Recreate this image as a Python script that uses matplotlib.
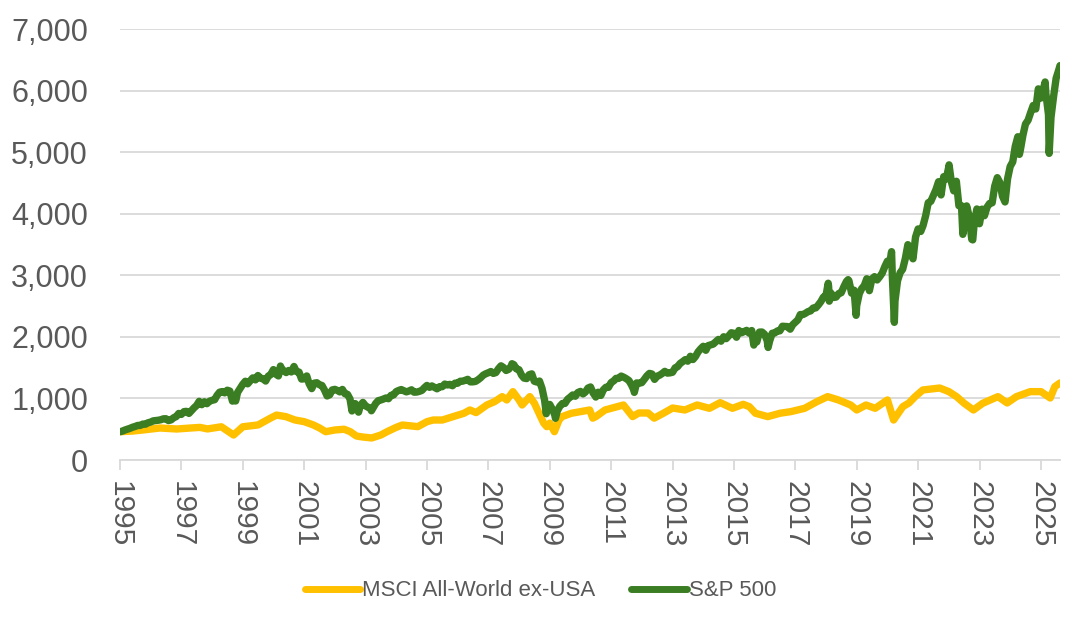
import matplotlib
matplotlib.use("Agg")
import matplotlib.pyplot as plt
import pandas as pd
import numpy as np

# ---------------- data ----------------
# S&P 500 month-end levels, Jan 1995 .. Jul 2025
sp500_monthly = [
    470, 487, 501, 515, 533, 545, 562, 562, 584, 582, 605, 616,
    636, 640, 646, 654, 669, 671, 640, 652, 687, 705, 757, 741,
    786, 791, 757, 801, 848, 885, 954, 899, 947, 915, 955, 970,
    980, 1049, 1102, 1112, 1091, 1134, 1121, 957, 1017, 1099, 1164, 1229,
    1280, 1238, 1286, 1335, 1302, 1373, 1329, 1320, 1283, 1363, 1389, 1469,
    1394, 1366, 1499, 1452, 1421, 1455, 1431, 1518, 1437, 1429, 1315, 1320,
    1366, 1240, 1160, 1249, 1256, 1224, 1211, 1134, 1041, 1060, 1139, 1148,
    1130, 1107, 1147, 1077, 1067, 990, 912, 916, 815, 886, 936, 880,
    856, 841, 848, 917, 964, 975, 990, 1008, 996, 1051, 1058, 1112,
    1131, 1145, 1126, 1107, 1121, 1141, 1102, 1104, 1115, 1130, 1174, 1212,
    1181, 1204, 1181, 1157, 1192, 1191, 1234, 1220, 1229, 1207, 1249, 1248,
    1280, 1281, 1295, 1311, 1270, 1270, 1277, 1304, 1336, 1378, 1401, 1418,
    1438, 1407, 1421, 1482, 1531, 1503, 1455, 1474, 1527, 1549, 1481, 1468,
    1379, 1331, 1323, 1386, 1400, 1280, 1267, 1283, 1165, 969, 896, 903,
    826, 735, 798, 873, 919, 919, 987, 1021, 1057, 1036, 1096, 1115,
    1074, 1104, 1169, 1187, 1089, 1031, 1102, 1049, 1141, 1183, 1181, 1258,
    1286, 1327, 1326, 1364, 1345, 1321, 1292, 1219, 1131, 1253, 1247, 1258,
    1312, 1366, 1408, 1398, 1310, 1362, 1379, 1407, 1441, 1412, 1416, 1426,
    1498, 1515, 1569, 1598, 1631, 1606, 1686, 1633, 1682, 1757, 1806, 1848,
    1783, 1859, 1872, 1884, 1924, 1960, 1931, 2003, 1972, 2018, 2068, 2059,
    1995, 2105, 2068, 2086, 2107, 2063, 2104, 1972, 1920, 2079, 2080, 2044,
    1940, 1932, 2060, 2065, 2097, 2099, 2174, 2171, 2168, 2126, 2199, 2239,
    2279, 2364, 2363, 2384, 2412, 2423, 2470, 2472, 2519, 2575, 2648, 2674,
    2824, 2714, 2641, 2648, 2705, 2718, 2816, 2902, 2914, 2712, 2760, 2507,
    2704, 2784, 2834, 2946, 2752, 2942, 2980, 2926, 2977, 3038, 3141, 3231,
    3226, 2954, 2585, 2912, 3044, 3100, 3271, 3500, 3363, 3270, 3622, 3756,
    3714, 3811, 3973, 4181, 4204, 4298, 4395, 4523, 4308, 4605, 4567, 4766,
    4516, 4374, 4530, 4132, 4132, 3785, 4130, 3955, 3586, 3872, 4080, 3840,
    4077, 3970, 4109, 4169, 4180, 4450, 4589, 4508, 4288, 4194, 4568, 4770,
    4846, 5096, 5254, 5036, 5278, 5460, 5522, 5648, 5762, 5705, 6032, 5882,
    6040, 5955, 5612, 5569, 5912, 6205, 6339,
]
sp500_start_month = "1995-01"

# intra-month highs/lows visible on the chart
sp500_extra_dates = [
    "1995-01-02", "1998-10-08", "2000-03-24", "2000-09-01", "2002-07-23",
    "2002-10-09", "2003-03-11", "2007-10-09", "2008-11-20", "2009-03-09",
    "2010-07-02", "2011-10-03", "2015-08-25", "2016-02-11", "2018-01-26",
    "2018-02-08", "2018-09-20", "2018-12-24", "2020-02-19", "2020-03-23",
    "2022-01-03", "2022-06-16", "2022-10-12", "2024-04-19", "2025-02-19",
    "2025-04-08", "2025-08-15",
]
sp500_extra_values = [
    460, 959, 1527, 1520, 797,
    777, 800, 1565, 752, 677,
    1023, 1099, 1868, 1829, 2873,
    2581, 2931, 2351, 3386, 2237,
    4797, 3667, 3577, 4967, 6144,
    4983, 6410,
]

# MSCI All-World ex-USA, rebased to the S&P 500 start level
msci_years = [
    1995.0, 1995.4, 1995.75, 1996.3, 1996.85, 1997.3, 1997.6, 1997.85, 1998.3,
    1998.7, 1999.0, 1999.5, 1999.9, 2000.1, 2000.4, 2000.7, 2001.0, 2001.3,
    2001.5, 2001.7, 2002.0, 2002.3, 2002.5, 2002.7, 2002.9, 2003.2, 2003.5,
    2003.7, 2004.0, 2004.2, 2004.5, 2004.7, 2005.0, 2005.2, 2005.5, 2005.85,
    2006.2, 2006.4, 2006.6, 2006.95, 2007.2, 2007.45, 2007.6, 2007.8, 2008.0,
    2008.1, 2008.35, 2008.5, 2008.7, 2008.8, 2008.9, 2009.0, 2009.15, 2009.3,
    2009.4, 2009.7, 2010.0, 2010.3, 2010.4, 2010.5, 2010.8, 2011.0, 2011.2,
    2011.4, 2011.7, 2011.9, 2012.2, 2012.4, 2012.7, 2013.0, 2013.4, 2013.8,
    2014.2, 2014.55, 2014.95, 2015.3, 2015.5, 2015.7, 2016.1, 2016.5, 2016.85,
    2017.3, 2017.7, 2018.05, 2018.4, 2018.8, 2019.0, 2019.3, 2019.6, 2020.0,
    2020.2, 2020.5, 2020.7, 2020.9, 2021.15, 2021.7, 2022.0, 2022.25, 2022.5,
    2022.8, 2023.1, 2023.35, 2023.6, 2023.9, 2024.2, 2024.65, 2025.0, 2025.3,
    2025.45, 2025.62,
]
msci_values = [
    460, 470, 488, 520, 504, 520, 530, 505, 540,
    406, 540, 570, 680, 730, 705, 650, 623, 569,
    520, 460, 488, 500, 460, 390, 374, 358, 407,
    460, 531, 569, 553, 542, 623, 650, 650, 705,
    759, 813, 770, 894, 948, 1030, 976, 1111, 976,
    894, 1030, 921, 705, 600, 542, 600, 460, 650,
    705, 759, 786, 813, 680, 705, 813, 840, 867,
    894, 705, 764, 764, 680, 760, 845, 813, 894,
    840, 932, 840, 905, 867, 760, 705, 760, 786,
    840, 948, 1030, 976, 894, 813, 894, 840, 976,
    650, 867, 927, 1030, 1138, 1170, 1111, 1030, 921,
    813, 921, 976, 1030, 927, 1030, 1111, 1111, 1008,
    1192, 1252,
]

series_names = ["MSCI All-World ex-USA", "S&P 500"]
y_ticks = [0, 1000, 2000, 3000, 4000, 5000, 6000, 7000]
x_tick_years = list(range(1995, 2026, 2))

# ---------------- build series ----------------
sp_dates = pd.date_range(sp500_start_month, periods=len(sp500_monthly), freq="ME")
sp = pd.Series(sp500_monthly, index=sp_dates)
sp_extra = pd.Series(sp500_extra_values, index=pd.to_datetime(sp500_extra_dates))
sp = pd.concat([sp, sp_extra]).sort_index()

def frac_year_to_ts(y):
    yr = int(np.floor(y))
    start = pd.Timestamp(f"{yr}-01-01")
    end = pd.Timestamp(f"{yr + 1}-01-01")
    return start + (end - start) * (y - yr)

msci_dates = [frac_year_to_ts(y) for y in msci_years]

# ---------------- plot ----------------
FONT = "Liberation Sans"
plt.rcParams["font.family"] = [FONT, "DejaVu Sans"]

fig = plt.figure(figsize=(10.81, 6.20), dpi=100)
ax = fig.add_axes([120 / 1081, 160 / 620, 940 / 1081, 430.7 / 620])

yellow = "#FFC000"
green = "#3B7D23"
ax.plot(msci_dates, msci_values, color=yellow, lw=5.3, solid_joinstyle="round",
        solid_capstyle="round", label=series_names[0], zorder=3)
ax.plot(sp.index, sp.values, color=green, lw=5.3, solid_joinstyle="round",
        solid_capstyle="round", label=series_names[1], zorder=4)

ax.set_ylim(0, 7000)
ax.set_xlim(pd.Timestamp("1995-01-01"), sp.index[-1])
ax.set_yticks(y_ticks)
ax.set_yticklabels([f"{v:,}" for v in y_ticks])
ax.yaxis.grid(True, color="#D9D9D9", lw=1.3)
ax.set_axisbelow(True)

ax.set_xticks([pd.Timestamp(f"{y}-01-01") for y in x_tick_years])
ax.set_xticklabels([str(y) for y in x_tick_years], rotation=270)

for s in ["left", "right", "top"]:
    ax.spines[s].set_visible(False)
ax.spines["bottom"].set_color("#D9D9D9")
ax.spines["bottom"].set_linewidth(1.3)

ax.tick_params(axis="y", length=0, pad=23, labelsize=22, labelcolor="#595959")
ax.tick_params(axis="x", length=7.2, width=1.3, color="#D9D9D9", pad=8,
               labelsize=21.5, labelcolor="#595959")

leg = fig.legend(loc="center", bbox_to_anchor=(0.5, 1 - 591 / 620), ncol=2,
                 frameon=False, fontsize=16, handlelength=2.5, handletextpad=0.1,
                 columnspacing=1.6)
for line in leg.get_lines():
    line.set_linewidth(5)
for t in leg.get_texts():
    t.set_color("#595959")

fig.savefig("out.png", dpi=100)
